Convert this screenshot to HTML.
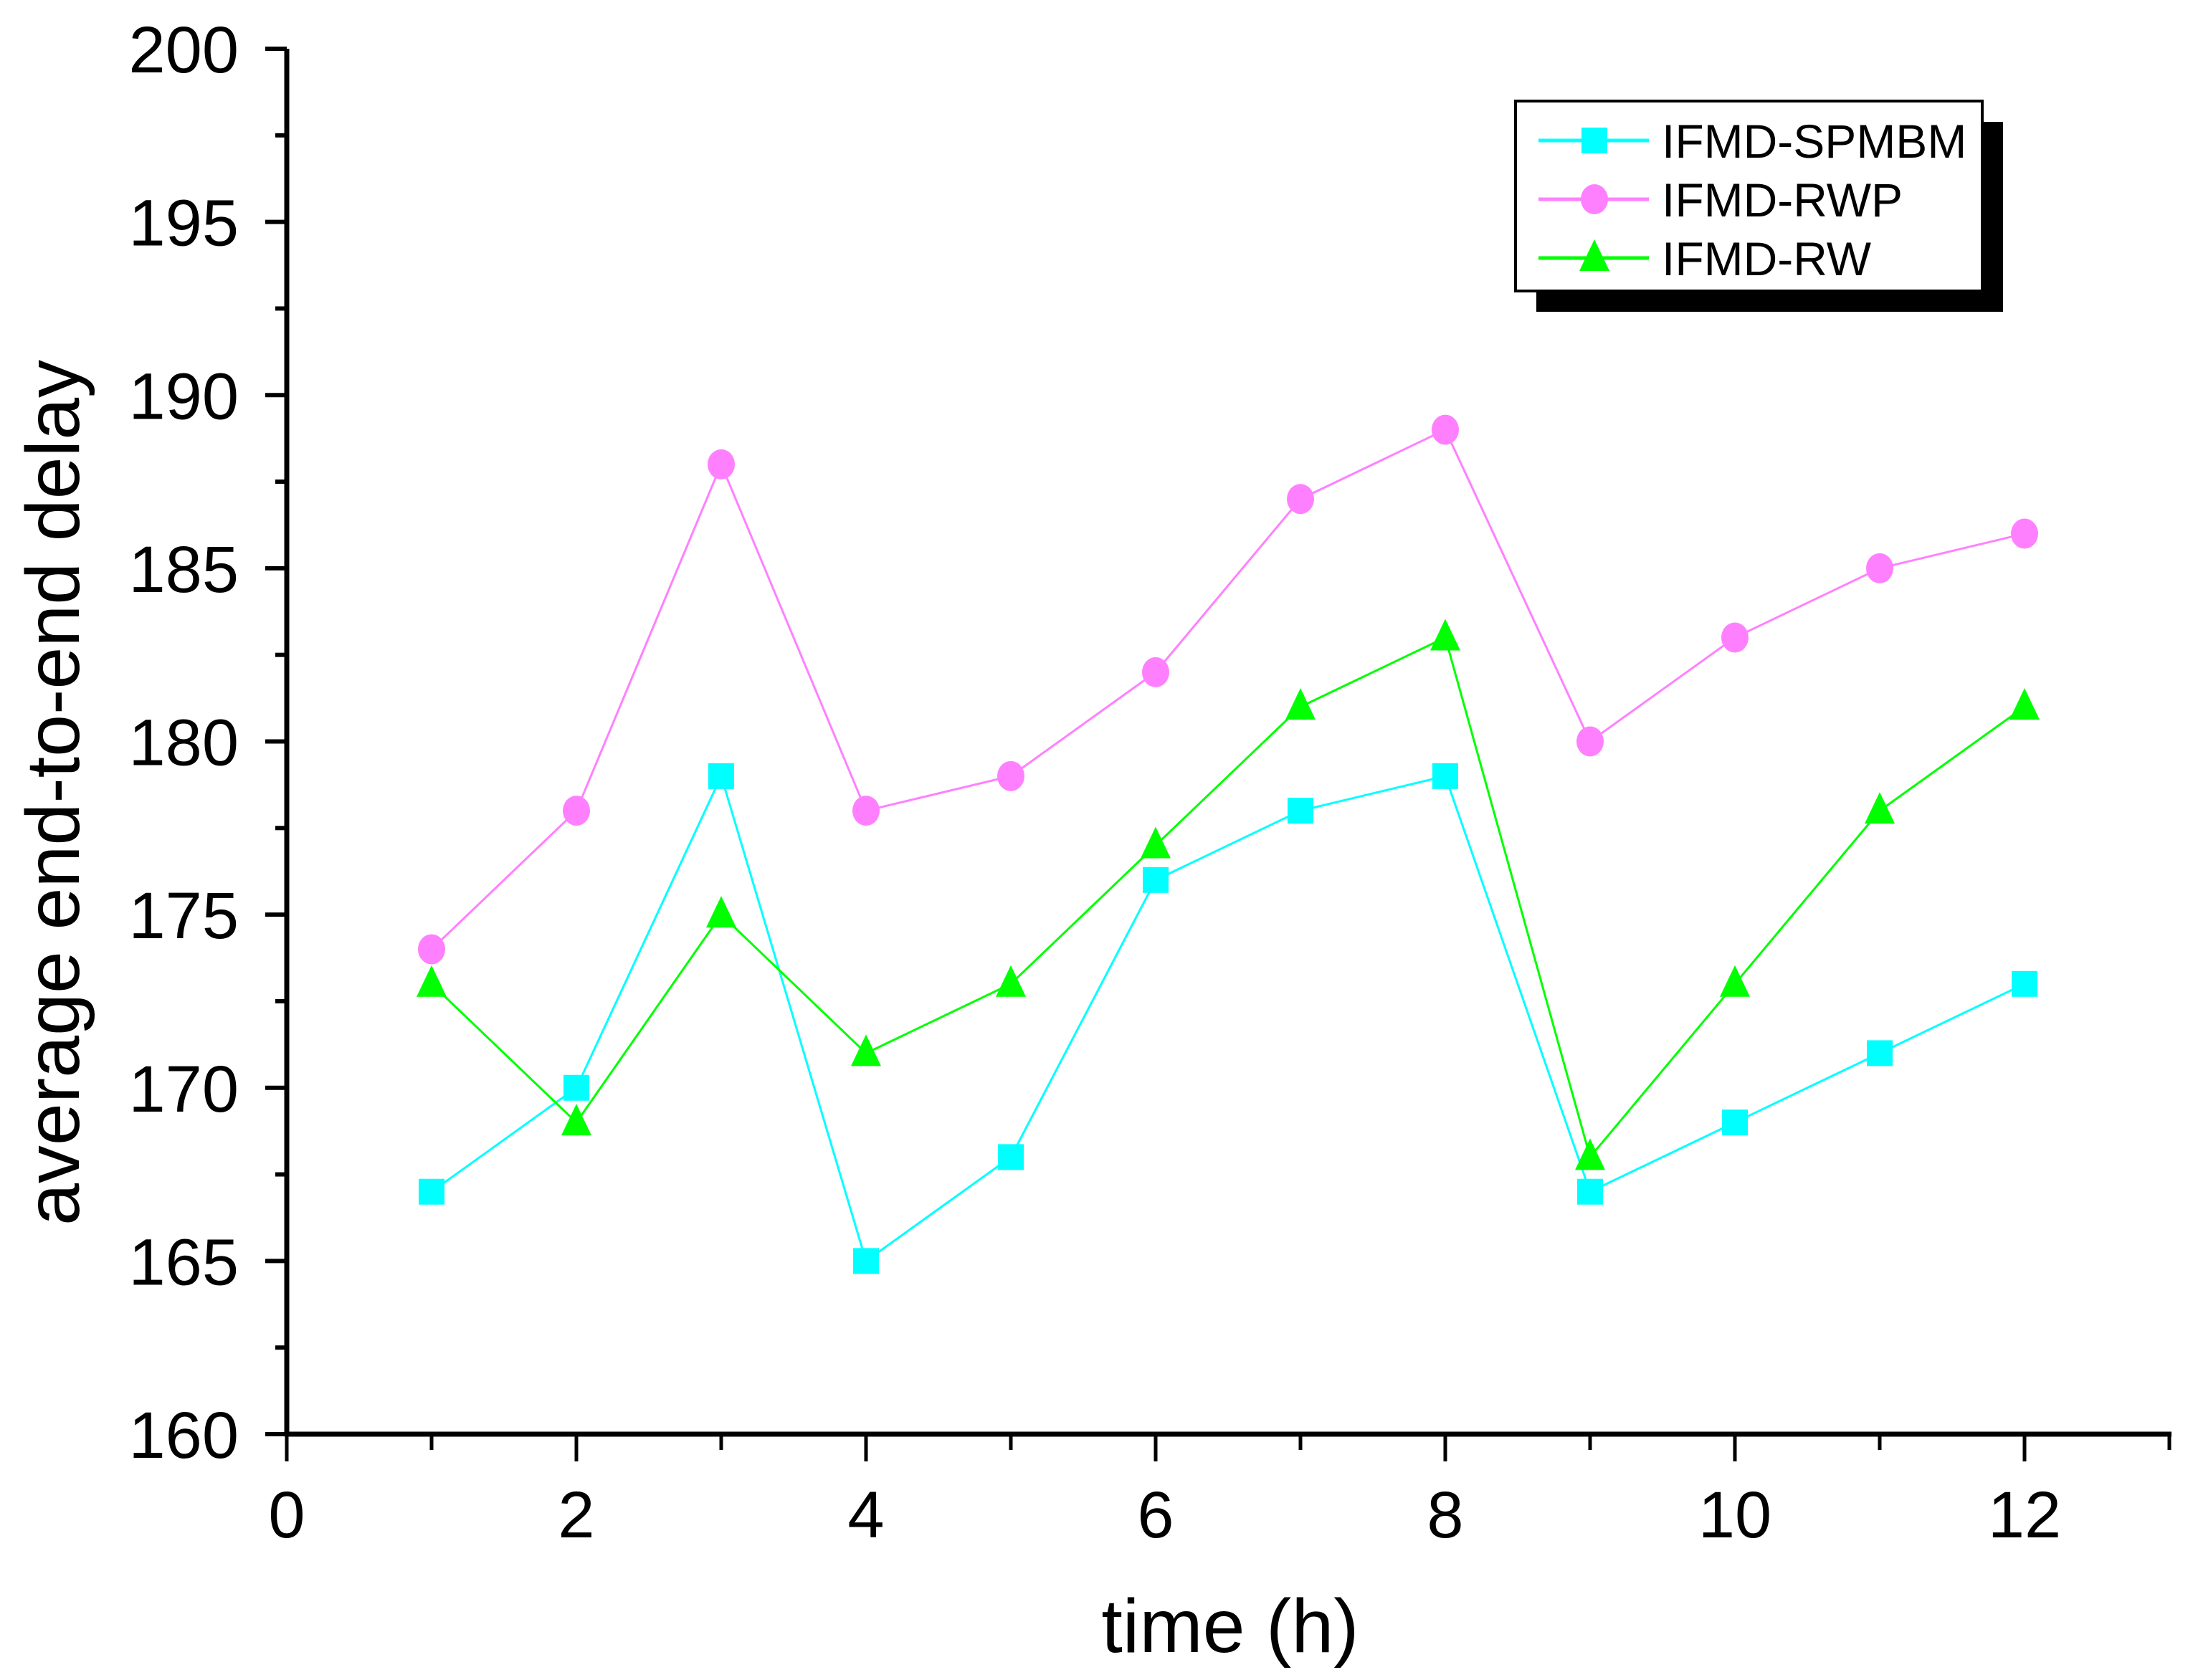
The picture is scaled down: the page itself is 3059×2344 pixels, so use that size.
<!DOCTYPE html>
<html><head><meta charset="utf-8"><style>html,body{margin:0;padding:0;background:#fff}svg{display:block}</style></head>
<body>
<svg id="chart" width="3059" height="2344" viewBox="0 0 3059 2344" xmlns="http://www.w3.org/2000/svg" font-family="'Liberation Sans', Arial, sans-serif"></svg>
<script>
const categories = [1,2,3,4,5,6,7,8,9,10,11,12];
const spmbm = [167,170,179,165,168,176,178,179,167,169,171,173];
const rwp = [174,178,188,178,179,182,187,189,180,183,185,186];
const rw = [173,169,175,171,173,177,181,183,168,173,178,181];
const xTicks = [0,2,4,6,8,10,12];
const yTicks = [160,165,170,175,180,185,190,195,200];

const NS = 'http://www.w3.org/2000/svg';
const svg = document.getElementById('chart');
const X0 = 400, XU = 202, Y200 = 68, Y160 = 2001;
const sx = v => X0 + v * XU;
const sy = v => Y160 + (v - 160) * (Y200 - Y160) / 40;
function mk(tag, attrs, parent) {
  const e = document.createElementNS(NS, tag);
  for (const k in attrs) e.setAttribute(k, attrs[k]);
  (parent || svg).appendChild(e);
  return e;
}
const axes = mk('g', {});


mk('line', {x1: X0, y1: Y200, x2: X0, y2: Y160, stroke: '#000', 'stroke-width': 7}, axes);
mk('line', {x1: X0 - 3, y1: Y160, x2: sx(13) + 3, y2: Y160, stroke: '#000', 'stroke-width': 7}, axes);
for (let v = 160; v <= 200; v += 2.5) {
  const major = v % 5 === 0;
  mk('line', {x1: X0 - (major ? 30 : 16), y1: sy(v), x2: X0, y2: sy(v), stroke: '#000', 'stroke-width': 6}, axes);
}
for (let v = 0; v <= 13; v++) {
  const major = v % 2 === 0;
  mk('line', {x1: sx(v), y1: Y160, x2: sx(v), y2: Y160 + (major ? 38 : 22), stroke: '#000', 'stroke-width': 5}, axes);
}
yTicks.forEach(v => {
  const t = mk('text', {x: 333, y: sy(v) + 33, 'text-anchor': 'end', 'font-size': 92}, axes);
  
  
  t.textContent = v;
});
xTicks.forEach(v => {
  const t = mk('text', {x: sx(v), y: 2145, 'text-anchor': 'middle', 'font-size': 92}, axes);
  
  
  t.textContent = v;
});
const xt = mk('text', {x: 1716, y: 2305, 'text-anchor': 'middle', 'font-size': 106});


xt.textContent = 'time (h)';
const yt = mk('text', {x: 0, y: 0, 'text-anchor': 'middle', 'font-size': 106, transform: 'translate(110,1106) rotate(-90)'});


yt.textContent = 'average end-to-end delay';

function marker(g, type, cx, cy, color) {
  if (type === 'square') mk('rect', {x: cx - 18, y: cy - 18, width: 36, height: 36, fill: color}, g);
  else if (type === 'circle') mk('ellipse', {cx: cx, cy: cy, rx: 19, ry: 21, fill: color}, g);
  else mk('polygon', {points: `${cx},${cy-26} ${cx+21},${cy+18} ${cx-21},${cy+18}`, fill: color}, g);
}
const series = [
  {name: 'IFMD-SPMBM', vals: spmbm, color: '#00ffff', type: 'square', key: 'spmbm'},
  {name: 'IFMD-RWP', vals: rwp, color: '#ff80ff', type: 'circle', key: 'rwp'},
  {name: 'IFMD-RW', vals: rw, color: '#00ff00', type: 'triangle', key: 'rw'}
];
series.forEach(s => {
  const g = mk('g', {});
  
  
  const pts = categories.map((c, i) => sx(c) + ',' + sy(s.vals[i])).join(' ');
  const pl = mk('polyline', {points: pts, fill: 'none', stroke: s.color, 'stroke-width': 3}, g);
  
  
  categories.forEach((c, i) => marker(g, s.type, sx(c), sy(s.vals[i]), s.color));
});

const lg = mk('g', {transform: 'translate(-12,0)'});


mk('rect', {x: 2155, y: 170, width: 651, height: 265, fill: '#000'}, lg);
mk('rect', {x: 2126, y: 141, width: 651, height: 265, fill: '#fff', stroke: '#000', 'stroke-width': 4}, lg);
const rows = [196, 278, 360];
series.forEach((s, i) => {
  const e = mk('g', {}, lg);
  
  
  mk('line', {x1: 2158, y1: rows[i], x2: 2312, y2: rows[i], stroke: s.color, 'stroke-width': 5}, e);
  marker(e, s.type, 2236, rows[i], s.color);
  const t = mk('text', {x: 2330, y: rows[i] + 24, 'font-size': 66}, e);
  t.textContent = s.name;
});
</script>
</body></html>
